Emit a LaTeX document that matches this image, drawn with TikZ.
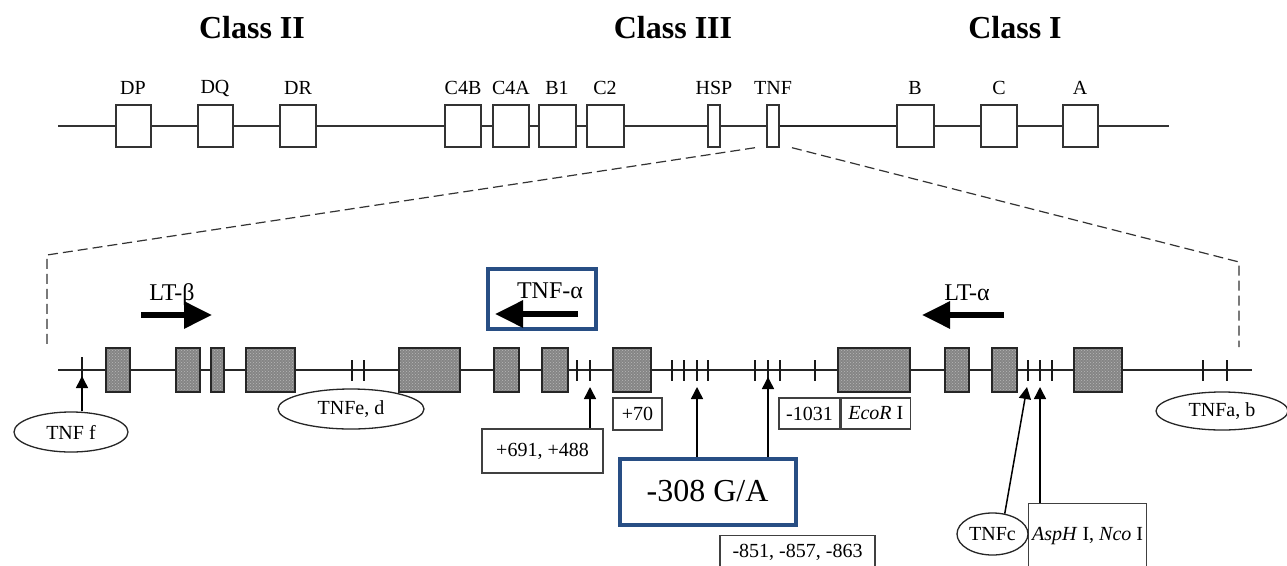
\documentclass[tikz,border=0pt]{standalone}
\usepackage{fontspec}
\setmainfont{Liberation Serif}
\usetikzlibrary{arrows.meta,shapes.geometric,patterns}
\definecolor{hlblue}{RGB}{40,78,132}
\begin{document}
\begin{tikzpicture}[x=1pt,y=-1pt,
  every node/.style={inner sep=0pt},
  classlbl/.style={font=\fontsize{32}{36}\selectfont\bfseries},
  smalltxt/.style={font=\fontsize{20}{24}\selectfont},
  midtxt/.style={font=\fontsize{24}{28}\selectfont},
  topbox/.style={draw=black!80,fill=white,line width=1.4pt,minimum height=42pt},
  exon/.style={draw=black!85,line width=1.6pt,minimum height=44pt,preaction={fill=black!48},pattern=crosshatch dots,pattern color=white!72!black},
  tickline/.style={draw=black!90,line width=1.6pt},
  lbox/.style={draw=black!75,fill=white,line width=1.3pt},
  oval/.style={ellipse,draw=black!85,line width=1.3pt},
  hbox/.style={draw=hlblue,line width=4pt},
  pinarrow/.style={draw=black,line width=1.5pt,-{Triangle[length=12pt,width=12pt]}},
  bigarrow/.style={draw=black,line width=6pt,-{Triangle[length=28pt,width=26pt]}},
  dashline/.style={draw=black!80,line width=1.2pt,dash pattern=on 10pt off 5pt}
]
\clip (0,0) rectangle (1287,565);
\fill[white] (0,0) rectangle (1287,565);

% ---- class headings
\node[classlbl] (cII) at (252,28) {Class II};
\node[classlbl] (cIII) at (673,28) {Class III};
\node[classlbl] (cI) at (1015,28) {Class I};

% ---- top map
\draw[line width=1.2pt,black!80] (58,126) -- (1169,126);
\node[topbox,minimum width=35pt] (dp) at (133.5,126) {};
\node[topbox,minimum width=35pt] (dq) at (215.5,126) {};
\node[topbox,minimum width=36pt] (dr) at (298,126) {};
\node[topbox,minimum width=36pt] (c4b) at (463,126) {};
\node[topbox,minimum width=36pt] (c4a) at (511,126) {};
\node[topbox,minimum width=37pt] (b1) at (557.5,126) {};
\node[topbox,minimum width=37pt] (c2) at (605.5,126) {};
\node[topbox,minimum width=12pt] (hsp) at (714,126) {};
\node[topbox,minimum width=12pt] (tnf) at (773,126) {};
\node[topbox,minimum width=37pt] (gb) at (915.5,126) {};
\node[topbox,minimum width=36pt] (gc) at (999,126) {};
\node[topbox,minimum width=35pt] (ga) at (1080.5,126) {};
\draw[line width=2.2pt,black!85] (tnf.east) -- (gb.west);

\node[smalltxt] (ldp) at (133,88) {DP};
\node[smalltxt] (ldq) at (215,88) {DQ};
\node[smalltxt] (ldr) at (298,88) {DR};
\node[smalltxt] (lc4b) at (463,88) {C4B};
\node[smalltxt] (lc4a) at (511,88) {C4A};
\node[smalltxt] (lb1) at (557,88) {B1};
\node[smalltxt] (lc2) at (605,88) {C2};
\node[smalltxt] (lhsp) at (714,88) {HSP};
\node[smalltxt] (ltnf) at (773,88) {TNF};
\node[smalltxt] (lgb) at (915,88) {B};
\node[smalltxt] (lgc) at (999,88) {C};
\node[smalltxt] (lga) at (1080,88) {A};

% ---- zoom lines
\coordinate (zl) at (47,255);
\coordinate (zlb) at (47,346);
\coordinate (zr) at (1239,262);
\coordinate (zrb) at (1239,347);
\draw[dashline] ([xshift=-18pt]tnf.south) -- (zl) -- (zlb);
\draw[dashline] ([xshift=19pt]tnf.south) -- (zr) -- (zrb);

% ---- bottom map
\draw[line width=1.6pt,black!85] (58,370) -- (1252,370);
\node[exon,minimum width=24pt] (e1) at (118,370) {};
\node[exon,minimum width=24pt] (e2) at (188,370) {};
\node[exon,minimum width=13pt] (e3) at (217.5,370) {};
\node[exon,minimum width=49pt] (e4) at (270.5,370) {};
\node[exon,minimum width=61pt] (e5) at (429.5,370) {};
\node[exon,minimum width=25pt] (e6) at (506.5,370) {};
\node[exon,minimum width=26pt] (e7) at (555,370) {};
\node[exon,minimum width=38pt] (e8) at (632,370) {};
\node[exon,minimum width=72pt] (e9) at (874,370) {};
\node[exon,minimum width=24pt] (e10) at (957,370) {};
\node[exon,minimum width=25pt] (e11) at (1004.5,370) {};
\node[exon,minimum width=48pt] (e12) at (1098,370) {};
\foreach \x in {352,364,577,590,672,684,697,708,755,768,780,815,1028,1040,1052,1203,1227}
  \draw[tickline] (\x,360) -- (\x,381);
\draw[tickline] (82,357) -- (82,385);

% ---- gene direction arrows
\node[midtxt] (ltb) at (172,295) {LT-β};
\node[hbox,minimum width=108pt,minimum height=60pt] (tnfbox) at (542,299) {};
\node[midtxt] (tnfa) at (550,291) {TNF-α};
\node[midtxt] (lta) at (967,293) {LT-α};
\coordinate (ltbs) at (141,315);
\coordinate (ltbe) at (212,315);
\coordinate (tnfas) at (578,314);
\coordinate (tnfae) at (495,314);
\coordinate (ltas) at (1004,315);
\coordinate (ltae) at (922,315);
\draw[bigarrow] (ltbs) -- (ltbe);
\draw[bigarrow] (tnfas) -- (tnfae);
\draw[bigarrow] (ltas) -- (ltae);

% ---- annotations
\node[oval,minimum width=114pt,minimum height=40pt,smalltxt] (tnff) at (71,432) {TNF f};
\node[oval,minimum width=146pt,minimum height=40pt,smalltxt] (tnfed) at (351,409) {TNFe, d};
\node[oval,minimum width=132pt,minimum height=38pt,smalltxt] (tnfab) at (1222,411) {TNFa, b};

\node[lbox,minimum width=121pt,minimum height=44pt,smalltxt] (b691) at (542.5,451) {+691, +488};
\node[lbox,minimum width=49pt,minimum height=32pt,smalltxt] (b70) at (637.5,414) {+70};
\node[lbox,minimum width=61pt,minimum height=31pt,smalltxt] (eca) at (809.5,413.5) {-1031};
\node[lbox,minimum width=69pt,minimum height=31pt,smalltxt,anchor=west] (ecb) at (eca.east) {\textit{EcoR} I};
\node[lbox,minimum width=155pt,minimum height=34pt,smalltxt,anchor=north] (b851) at (797.5,535) {-851, -857, -863};
\node[lbox,minimum width=118pt,minimum height=64pt,smalltxt,anchor=north west] (asp) at (1028,503) {\textit{AspH} I, \textit{Nco} I};
\node[oval,minimum width=71pt,minimum height=42pt,smalltxt,fill=white] (tnfc) at (992.5,534) {TNFc};

\coordinate (p82) at (82,376);
\coordinate (p590) at (590,387);
\coordinate (p697) at (697,387);
\coordinate (p768) at (768,377);
\coordinate (p1027) at (1027,387);
\coordinate (p1040) at (1040,387);

\draw[pinarrow] (p82 |- tnff.north) -- (p82);
\draw[pinarrow] (p590 |- b691.north) -- (p590);
\draw[pinarrow] (tnfc.59) -- (p1027);
\draw[pinarrow] (p1040 |- asp.north) -- (p1040);

\node[hbox,fill=white,minimum width=176pt,minimum height=66pt,font=\fontsize{32}{36}\selectfont] (snp) at (707.5,491.5) {-308 G/A};
\draw[pinarrow] (p697 |- snp.north) -- (p697);
\draw[pinarrow] (p768 |- snp.north) -- (p768);
\end{tikzpicture}
\end{document}
